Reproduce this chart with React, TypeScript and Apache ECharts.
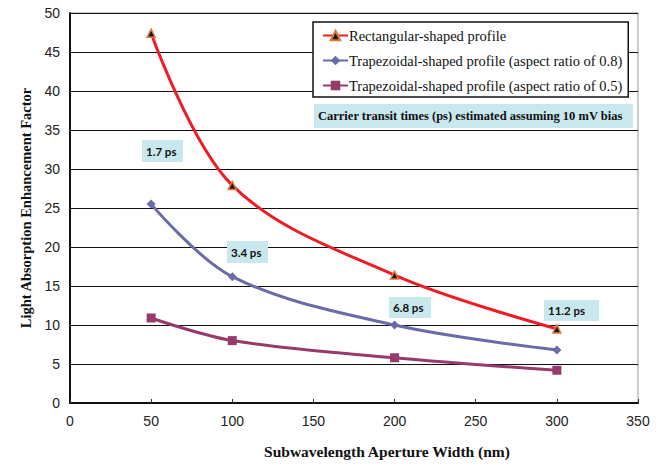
import React, { useEffect, useRef } from "react";
import * as echarts from "echarts";

const widths = [50, 100, 200, 300];
const rectangular = [47.4, 27.9, 16.4, 9.5];
const trap08 = [25.5, 16.2, 10.0, 6.8];
const trap05 = [10.9, 8.0, 5.8, 4.2];
const seriesNames = [
  "Rectangular-shaped profile",
  "Trapezoidal-shaped profile (aspect ratio of 0.8)",
  "Trapezoidal-shaped profile (aspect ratio of 0.5)",
];
const transitLabels = ["1.7 ps", "3.4 ps", "6.8 ps", "11.2 ps"];
const noteText = "Carrier transit times (ps) estimated assuming 10 mV bias";

const pairs = (ys: number[]) => widths.map((x, i) => [x, ys[i]]);

export default function App() {
  const ref = useRef<HTMLDivElement>(null);
  useEffect(() => {
    if (!ref.current) return;
    const chart = echarts.init(ref.current, null, { renderer: "svg" });
    const serif = "Liberation Serif";
    const boxColor = "#c9e8ee";
    const boxes = [
      { x: 142, y: 140, w: 41, h: 22 },
      { x: 227, y: 241, w: 41, h: 22 },
      { x: 389, y: 297, w: 42, h: 21 },
      { x: 544, y: 300, w: 55, h: 21 },
    ];
    const graphic: any[] = [];
    boxes.forEach((b, i) => {
      graphic.push({
        type: "rect",
        shape: { x: b.x, y: b.y, width: b.w, height: b.h },
        style: { fill: boxColor },
        z: 100,
      });
      graphic.push({
        type: "text",
        x: b.x + 4,
        y: b.y + b.h / 2,
        style: {
          text: transitLabels[i],
          font: "bold 11.5px Lato",
          fill: "#111",
          verticalAlign: "middle",
        },
        z: 101,
      });
    });
    graphic.push({
      type: "rect",
      shape: { x: 314, y: 104, width: 319, height: 24 },
      style: { fill: boxColor },
      z: 100,
    });
    graphic.push({
      type: "text",
      x: 318,
      y: 116,
      style: {
        text: noteText,
        font: "bold 12.5px 'Liberation Serif'",
        fill: "#111",
        verticalAlign: "middle",
      },
      z: 101,
    });

    chart.setOption({
      animation: false,
      backgroundColor: "#fff",
      grid: {
        left: 70,
        right: 29,
        top: 13,
        bottom: 62,
        show: true,
        borderColor: "#999",
        borderWidth: 1,
      },
      legend: {
        orient: "vertical",
        left: 313,
        top: 22,
        width: 319,
        padding: [6, 6, 4, 9],
        itemWidth: 25,
        itemHeight: 12,
        itemGap: 10,
        backgroundColor: "#fff",
        borderColor: "#111",
        borderWidth: 1.5,
        textStyle: { fontFamily: serif, fontSize: 14.5, color: "#111", padding: [0, 0, 0, -4] },
        data: seriesNames,
        z: 50,
      },
      xAxis: {
        type: "value",
        min: 0,
        max: 350,
        interval: 50,
        name: "Subwavelength Aperture Width (nm)",
        nameLocation: "middle",
        nameGap: 40,
        nameTextStyle: {
          fontFamily: serif,
          fontWeight: "bold",
          fontSize: 15.5,
          color: "#111",
          padding: [0, 0, 0, 66],
        },
        axisLine: { show: true, lineStyle: { color: "#111", width: 2 } },
        axisTick: { show: true, inside: true, length: 4, lineStyle: { color: "#333" } },
        axisLabel: { fontFamily: "Liberation Sans", fontSize: 14, color: "#222", margin: 11 },
        splitLine: { show: false },
      },
      yAxis: {
        type: "value",
        min: 0,
        max: 50,
        interval: 5,
        name: "Light Absorption Enhancement Factor",
        nameLocation: "middle",
        nameGap: 34,
        nameTextStyle: { fontFamily: serif, fontWeight: "bold", fontSize: 14.5, color: "#111" },
        axisLine: { show: true, lineStyle: { color: "#111", width: 2 } },
        axisTick: { show: false },
        axisLabel: { fontFamily: "Liberation Sans", fontSize: 14, color: "#222", margin: 10 },
        splitLine: { show: true, lineStyle: { color: "#111", width: 1 } },
      },
      series: [
        {
          name: seriesNames[0],
          type: "line",
          data: pairs(rectangular),
          smooth: 0.35,
          symbol: "triangle",
          symbolSize: 8,
          lineStyle: { color: "#ee1c25", width: 3 },
          itemStyle: { color: "#1a1a1a", borderColor: "#e27a3a", borderWidth: 1.5 },
          z: 5,
        },
        {
          name: seriesNames[1],
          type: "line",
          data: pairs(trap08),
          smooth: 0.35,
          symbol: "diamond",
          symbolSize: 9,
          lineStyle: { color: "#6b6baa", width: 3 },
          itemStyle: { color: "#6b6baa" },
          z: 4,
        },
        {
          name: seriesNames[2],
          type: "line",
          data: pairs(trap05),
          smooth: 0.35,
          symbol: "rect",
          symbolSize: 9,
          lineStyle: { color: "#963a6c", width: 3 },
          itemStyle: { color: "#963a6c" },
          z: 3,
        },
      ],
      graphic,
    });
    return () => chart.dispose();
  }, []);
  return <div ref={ref} style={{ width: 667, height: 465, marginLeft: -8, marginTop: -8 }} />;
}
